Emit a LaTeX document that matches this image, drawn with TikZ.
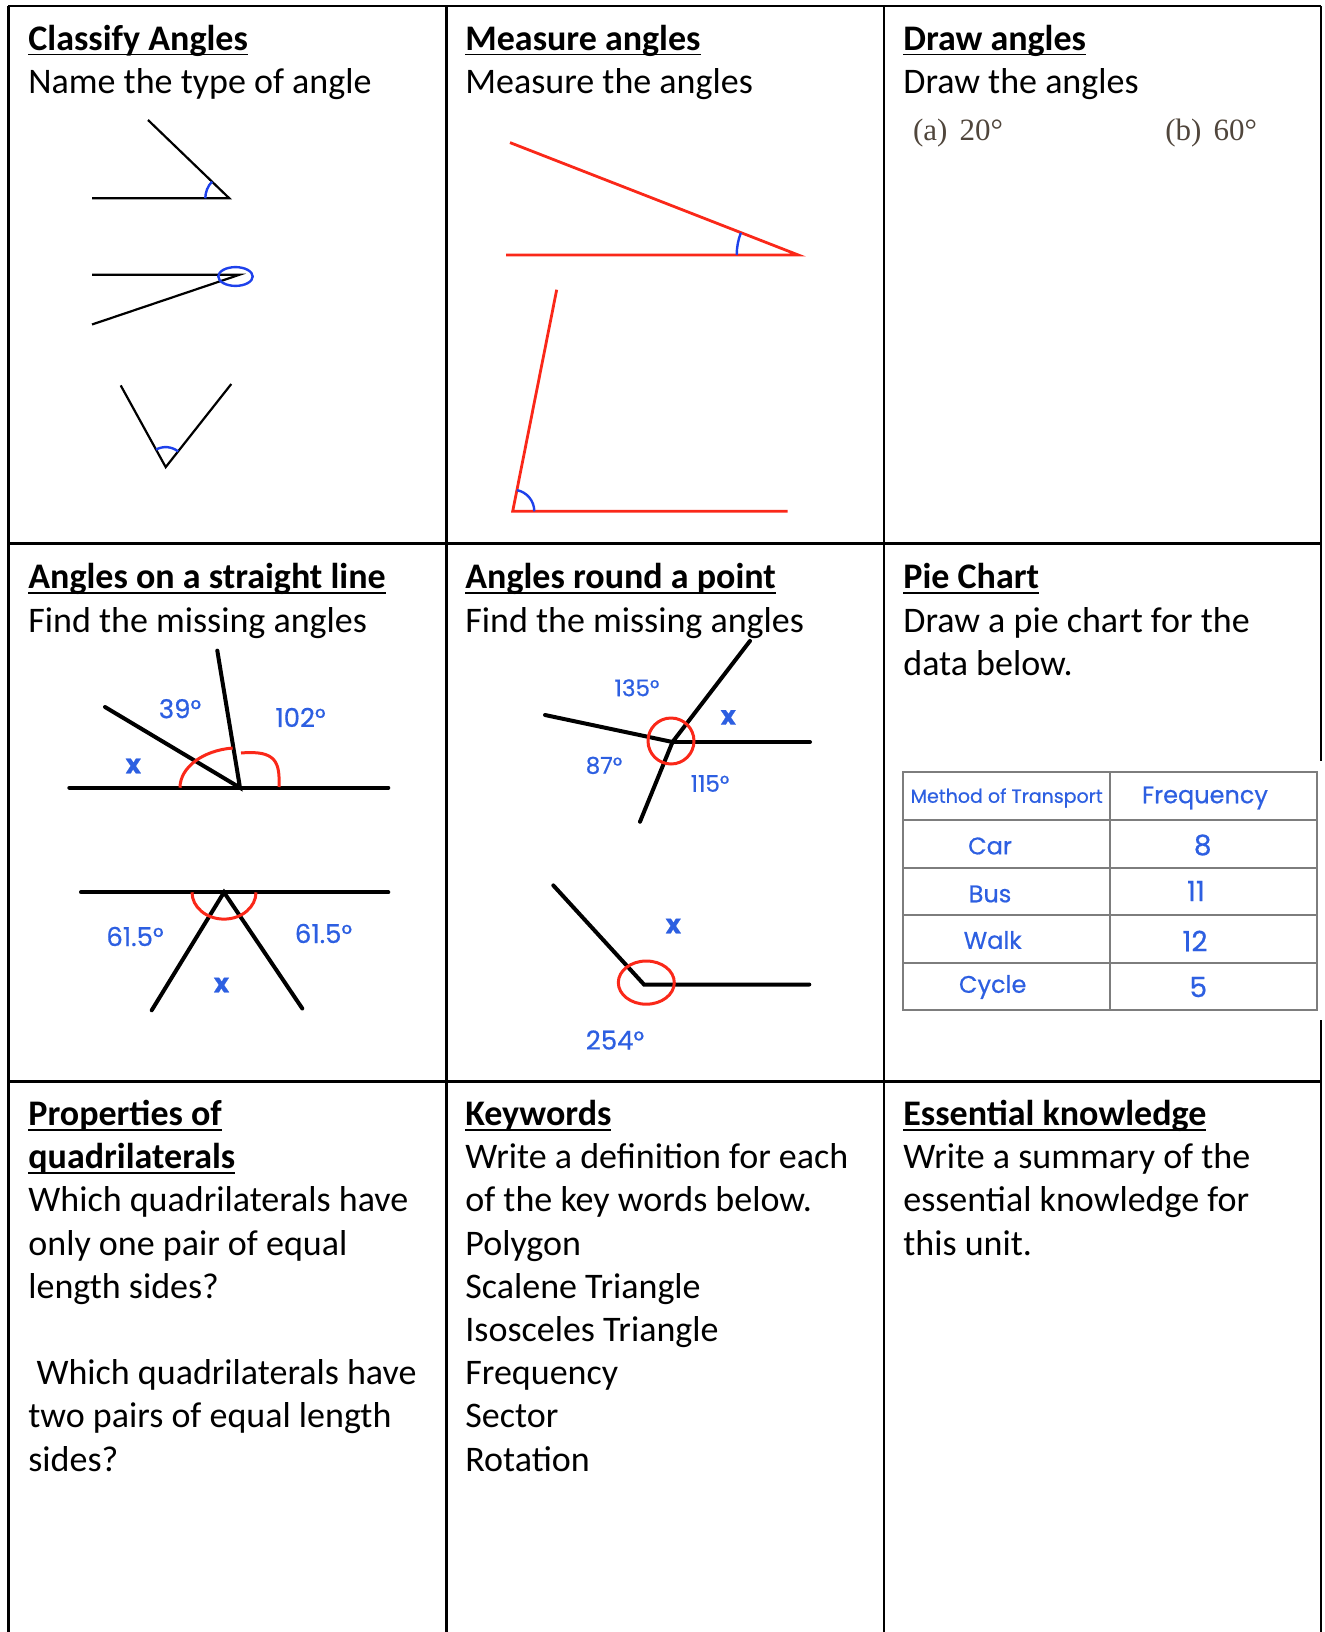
\documentclass[tikz,border=0pt]{standalone}
\usepackage{fontspec}
\setmainfont{Carlito}
\newfontfamily\handfont[FakeBold=0.6]{Poppins}
\newfontfamily\bookfont{Liberation Serif}

\definecolor{penred}{RGB}{250,40,25}
\definecolor{penblue}{RGB}{30,65,235}
\definecolor{tagblue}{RGB}{45,95,225}
\definecolor{inkgrey}{RGB}{80,70,60}
\definecolor{rulegrey}{RGB}{125,125,125}

\newsavebox{\headbox}
\newcommand{\heading}[1]{\sbox{\headbox}{\bfseries #1}\rlap{\rule[-2.6pt]{\wd\headbox}{0.9pt}}\usebox{\headbox}}

\begin{document}
\begin{tikzpicture}[
    x=0.5pt, y=-0.5pt,
    frame/.style={line width=1.2pt},
    cellbox/.style={anchor=north west, inner sep=0pt, align=left,
        font=\fontsize{18pt}{21.6pt}\selectfont},
    ink/.style={line width=1.1pt},
    bold ink/.style={line width=2pt, line cap=round},
    redline/.style={penred, line width=1.4pt},
    tick/.style={penblue, line width=1.2pt},
    ring/.style={penred, line width=1.5pt},
    tag/.style={inner sep=0pt, text=tagblue, font=\handfont\fontsize{13pt}{15pt}\selectfont},
    small tag/.style={tag, font=\handfont\fontsize{11.5pt}{14pt}\selectfont},
    xmark/.style={tag, font=\handfont\bfseries\fontsize{13pt}{15pt}\selectfont},
    entry/.style={inner sep=0pt, text=tagblue, font=\handfont\fontsize{12pt}{14pt}\selectfont},
    table rule/.style={rulegrey, line width=1pt}
]
\useasboundingbox (0,0) rectangle (1324,1632);

% table frame
\foreach \y in {6.3,543.4,1081.5}
    \draw[frame] (8.3,\y) -- (1321,\y);
\foreach \x in {8.3,446.6,883.8}
    \draw[frame] (\x,6.3) -- (\x,1632);
\draw[frame] (1321,6.3) -- (1321,761) (1321,1020) -- (1321,1632);

% row 1
\node[cellbox] (classify) at (28,19.5) {\strut\heading{Classify Angles}\\Name the type of angle};
\node[cellbox] (measure) at (465,19.5) {\strut\heading{Measure angles}\\Measure the angles};
\node[cellbox] (drawang) at (903,19.5) {\strut\heading{Draw angles}\\Draw the angles};
\node[anchor=base west, inner sep=0pt, text=inkgrey, font=\bookfont\fontsize{15.5pt}{18pt}\selectfont] (parta) at (912.7,140.9) {(a)\hspace{6pt}20°};
\node[anchor=base west, inner sep=0pt, text=inkgrey, font=\bookfont\fontsize{15.5pt}{18pt}\selectfont] (partb) at (1165,140.9) {(b)\hspace{6pt}60°};

% classify: acute, reflex, acute
\draw[ink] (92,198.3) -- (229.3,198.3) -- (148,120);
\draw[tick] (229.3,198.3) ++(180:12pt) arc[start angle=180, end angle=136, radius=12pt];
\draw[ink] (92,274.8) -- (239.3,274.8) -- (92,324.5);
\draw[tick] (235.5,276.5) ellipse[x radius=8.6pt, y radius=4.7pt];
\draw[ink] (120.7,385.4) -- (165.7,467.1) -- (231.3,384);
\draw[tick] (165.7,467.1) ++(51.7:10pt) arc[start angle=51.7, end angle=118.8, radius=10pt];

% measure
\draw[redline] (510,142.6) -- (798.3,255) -- (506,255);
\draw[tick] (798.3,255) ++(180:30.8pt) arc[start angle=180, end angle=158.8, radius=30.8pt];
\draw[redline] (556.7,289.7) -- (512.7,511.3) -- (787.7,511.3);
\draw[tick] (512.7,511.3) ++(0:10.8pt) arc[start angle=0, end angle=78.8, radius=10.8pt];

% row 2
\node[cellbox] (straight) at (28,558.3) {\strut\heading{Angles on a straight line}\\Find the missing angles};
\node[cellbox] (round) at (465,558.3) {\strut\heading{Angles round a point}\\Find the missing angles};
\node[cellbox] (pie) at (903,558.3) {\strut\heading{Pie Chart}\\Draw a pie chart for the\\data below.};

% straight line
\draw[bold ink] (69.3,787.7) -- (388.3,787.7);
\draw[bold ink] (105,707) -- (240,787.7) -- (217.3,650.6);
\draw[ring] (240,787.7) ++(180:30pt) arc[start angle=180, end angle=97, x radius=30pt, y radius=20pt];
\draw[ring] (241,753) .. controls (276,750) and (280,762) .. (279,787);
\node[tag] (a39) at (180,708.7) {39°};
\node[tag] (a102) at (300.5,717.4) {102°};
\node[xmark] (x1) at (133.3,766) {x};

\draw[bold ink] (81,892.3) -- (388.3,892.3);
\draw[bold ink] (151.7,1010.3) -- (224,892.3) -- (302.3,1008.5);
\draw[ring] (224,892.3) ++(180:16pt) arc[start angle=180, end angle=360, x radius=16pt, y radius=13.4pt];
\node[tag] (a615l) at (135,936.5) {61.5°};
\node[tag] (a615r) at (323.5,933.5) {61.5°};
\node[xmark] (x2) at (221.5,985) {x};

% round a point
\draw[bold ink] (545,715) -- (672.5,742) -- (750,640.9);
\draw[bold ink] (672.5,742) -- (810,742);
\draw[bold ink] (672.5,742) -- (640,821.7);
\draw[ring] (671,741) circle[radius=11.5pt];
\node[small tag] (a135) at (637,687.8) {135°};
\node[xmark] (x3) at (728.3,717.4) {x};
\node[small tag] (a87) at (604,765.4) {87°};
\node[small tag] (a115) at (710,783.5) {115°};

\draw[bold ink] (553.3,885.4) -- (644,984.5) -- (809.3,984.5);
\draw[ring] (646.3,982.6) ellipse[x radius=14pt, y radius=10.8pt];
\node[xmark] (x4) at (673.3,926) {x};
\node[tag] (a254) at (615,1040) {254°};

% pie chart data
\draw[table rule] (902.7,772.3) rectangle (1316.7,1010.3);
\draw[table rule] (1110,772.3) -- (1110,1010.3);
\foreach \y in {819.9,867.5,915.1,962.7}
    \draw[table rule] (902.7,\y) -- (1316.7,\y);
\node[entry, font=\handfont\fontsize{9.5pt}{11pt}\selectfont] (method) at (1006.7,798) {Method of Transport};
\node[entry, font=\handfont\fontsize{12pt}{14pt}\selectfont] (freq) at (1205,798) {Frequency};
\node[entry] (car) at (990,846) {Car};
\node[entry] (bus) at (990,894) {Bus};
\node[entry] (walk) at (992.7,940) {Walk};
\node[entry] (cycle) at (992.7,987) {Cycle};
\node[entry, font=\handfont\fontsize{14pt}{16pt}\selectfont] (f8) at (1202.7,845) {8};
\node[entry, font=\handfont\fontsize{14pt}{16pt}\selectfont] (f11) at (1196,891) {11};
\node[entry, font=\handfont\fontsize{14pt}{16pt}\selectfont] (f12) at (1195,941) {12};
\node[entry, font=\handfont\fontsize{14pt}{16pt}\selectfont] (f5) at (1198.3,987) {5};

% row 3
\node[cellbox] (quads) at (28,1094.8) {\strut\heading{Properties of}\\\heading{quadrilaterals}\\Which quadrilaterals have\\only one pair of equal\\length sides?\\[21.6pt]\ Which quadrilaterals have\\two pairs of equal length\\sides?};
\node[cellbox] (keywords) at (465,1094.8) {\strut\heading{Keywords}\\Write a definition for each\\of the key words below.\\Polygon\\Scalene Triangle\\Isosceles Triangle\\Frequency\\Sector\\Rotation};
\node[cellbox] (essential) at (903,1094.8) {\strut\heading{Essential knowledge}\\Write a summary of the\\essential knowledge for\\this unit.};
\end{tikzpicture}
\end{document}
